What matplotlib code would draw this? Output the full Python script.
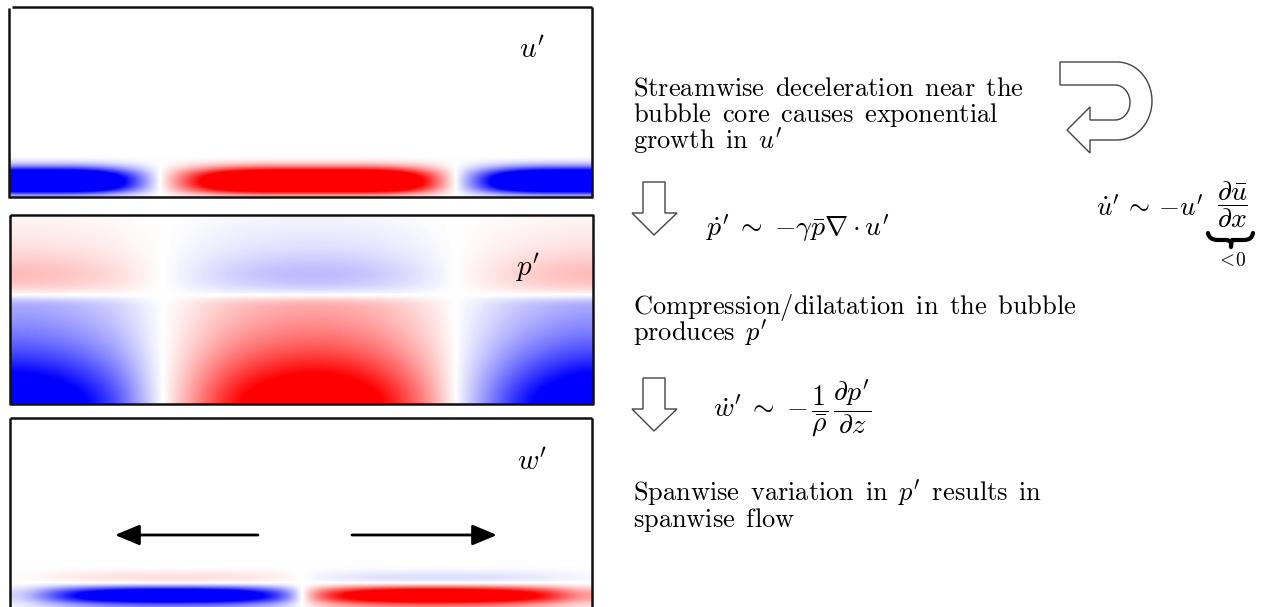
import numpy as np
import matplotlib
matplotlib.use("Agg")
import matplotlib.pyplot as plt
from matplotlib.patches import Polygon, PathPatch
from matplotlib.path import Path

plt.rcParams['mathtext.fontset'] = 'cm'

# ---------------- data ----------------
# u' panel : streamwise profile (24 columns) and wall-normal profile of the near-wall band (12 rows)
u_cols = [-1, -1, -1, -0.9, -0.6, -0.25, 0.1, 0.4, 0.7, 0.9, 1, 1,
          1, 1, 1, 0.95, 0.7, 0.35, -0.05, -0.4, -0.75, -0.95, -1, -1]
u_rows = [0, 0.08, 0.25, 0.6, 1.1, 1.6, 1.9, 2.0, 1.9, 1.6, 1.0, 0.3]

# p' panel : streamwise profile (24 columns), wall-normal profile (27 rows, top to bottom)
p_cols = [-1, -0.95, -0.85, -0.7, -0.5, -0.2, 0.05, 0.3, 0.55, 0.75, 0.88, 0.97,
          1.0, 0.97, 0.88, 0.72, 0.5, 0.25, -0.05, -0.3, -0.55, -0.75, -0.9, -1]
p_rows = [-0.04, -0.06, -0.08, -0.1, -0.12, -0.16, -0.2, -0.25, -0.27, -0.25, -0.17, 0.0,
          0.33, 0.36, 0.4, 0.45, 0.5, 0.56, 0.63, 0.71, 0.8, 0.9, 1.0, 1.1,
          1.2, 1.28, 1.33]

# w' panel : spanwise profile (24 columns), near-wall band (12 rows)
w_cols = [-0.1, -0.35, -0.6, -0.8, -0.92, -1, -1, -1, -0.95, -0.85, -0.65, -0.35,
          0.3, 0.6, 0.8, 0.92, 1, 1, 1, 0.95, 0.85, 0.7, 0.5, 0.25]
w_rows = [0, -0.04, -0.1, -0.14, -0.1, 0.1, 0.7, 1.3, 1.6, 1.5, 1.0, 0.5]

panel_labels = [r"$u'$", r"$p'$", r"$w'$"]

text_lines = [
    ("Streamwise deceleration near the", None),
    ("bubble core causes exponential", None),
    ("growth in", r"u'"),
    ("Compression/dilatation in the bubble", None),
    ("produces", r"p'"),
    ("Spanwise variation in", r"p'\ \,\mathrm{results}\ \,\mathrm{in}"),
    ("spanwise flow", None),
]
text_baselines = [95, 122, 148, 314, 341, 500, 527]

eq_p = r"$\dot{p}'\;\sim\;{-\gamma}\bar{p}\nabla\cdot u'$"
eq_w = r"$\dot{w}'\;\sim\;{-}\,\dfrac{1}{\bar{\rho}}\,\dfrac{\partial p'}{\partial z}$"
eq_u = r"$\dot{u}'\,\sim\,{-u'}$"
eq_u_frac = r"$\dfrac{\partial \bar{u}}{\partial x}$"
eq_u_sign = r"$<\!0$"

# ---------------- figure ----------------
fig = plt.figure(figsize=(12.65, 6.07), dpi=100)
ax = fig.add_axes([0, 0, 1, 1])
ax.set_xlim(0, 1265)
ax.set_ylim(607, 0)
ax.axis('off')

kw = dict(cmap='bwr', vmin=-1, vmax=1, interpolation='bicubic', aspect='auto')
ax.imshow(np.outer(u_rows, u_cols), extent=(9, 592, 197, 155), **kw)
ax.imshow(np.outer(p_rows, p_cols), extent=(10, 593, 404, 215), **kw)
ax.imshow(np.outer(w_rows, w_cols), extent=(10, 592, 607, 565), **kw)
ax.set_xlim(0, 1265)
ax.set_ylim(607, 0)

lk = dict(color='#111111', lw=1.8, solid_capstyle='butt')
# panel 1
ax.plot([12, 592], [7, 7], **lk)
ax.plot([9, 9], [8, 198], **lk)
ax.plot([9, 593], [197, 197], **lk)
ax.plot([592, 592], [7, 197], **lk)
# panel 2
ax.plot([10, 593, 593, 10, 10], [215, 215, 404, 404, 215], **lk)
# panel 3
ax.plot([10, 10], [607, 418], **lk)
ax.plot([10, 592], [418, 418], **lk)
ax.plot([592, 592], [418, 607], **lk)

# panel labels
for lab, (x, y) in zip(panel_labels, [(519, 50), (515, 268), (517, 462)]):
    ax.text(x, y, lab, fontsize=21, va='center', ha='left')

# black spanwise arrows
ap = dict(arrowstyle='-|>,head_length=0.6,head_width=0.25', color='k', lw=2,
          mutation_scale=25, shrinkA=0, shrinkB=0)
ax.annotate('', xy=(115, 535), xytext=(258, 535), arrowprops=ap)
ax.annotate('', xy=(497, 535), xytext=(352, 535), arrowprops=ap)

# text
def mtxt(s):
    return r"\mathrm{" + s.replace(" ", r"}\ \,\mathrm{") + "}"

FS = 19
for (s, m), yb in zip(text_lines, text_baselines):
    t = "$" + mtxt(s) + (r"\ \," + m if m else "") + "$"
    ax.text(633, yb, t, fontsize=FS, va='baseline', ha='left')

FE = 20
ax.text(706, 229, eq_p, fontsize=FE, va='center', ha='left')
ax.text(713, 409, eq_w, fontsize=FE, va='center', ha='left')
ax.text(1096, 208, eq_u, fontsize=19.5, va='center', ha='left')
ax.text(1232, 205, eq_u_frac, fontsize=FE, va='center', ha='center')
ax.text(1231, 261, eq_u_sign, fontsize=14, va='center', ha='center')

# brace under the fraction
bverts = [(1208, 233), (1209, 240), (1218, 240), (1226, 240),
          (1230, 240), (1231, 243), (1231, 247),
          (1231, 243), (1232, 240), (1236, 240),
          (1244, 240), (1252, 240), (1253, 233)]
bcodes = [Path.MOVETO, Path.CURVE3, Path.CURVE3, Path.LINETO,
          Path.CURVE3, Path.CURVE3, Path.LINETO,
          Path.CURVE3, Path.CURVE3, Path.LINETO,
          Path.LINETO, Path.CURVE3, Path.CURVE3]
ax.add_patch(PathPatch(Path(bverts, bcodes), fc='none', ec='k', lw=3.0,
                       capstyle='round', joinstyle='round'))

# hollow arrows
hk = dict(fc='white', ec='#444444', lw=1.0, joinstyle='miter')
def down_arrow(x0, y0):
    pts = [(x0 + 11, y0), (x0 + 33, y0), (x0 + 33, y0 + 31), (x0 + 45, y0 + 31),
           (x0 + 22, y0 + 53), (x0, y0 + 31), (x0 + 11, y0 + 31)]
    ax.add_patch(Polygon(pts, closed=True, **hk))
down_arrow(632, 182)
down_arrow(632, 378)

th_o = np.linspace(np.pi / 2, -np.pi / 2, 40)
outer = [(1117 + 35 * np.cos(t), 101 - 39 * np.sin(t)) for t in th_o]
th_i = np.linspace(-np.pi / 2, np.pi / 2, 40)
inner = [(1115 + 15 * np.cos(t), 102.5 - 17.5 * np.sin(t)) for t in th_i]
upts = ([(1060, 62)] + outer + [(1090, 140), (1090, 153), (1067, 130), (1090, 107), (1090, 120)]
        + inner + [(1060, 85)])
ax.add_patch(Polygon(upts, closed=True, **hk))

fig.savefig("out.png", dpi=100)
